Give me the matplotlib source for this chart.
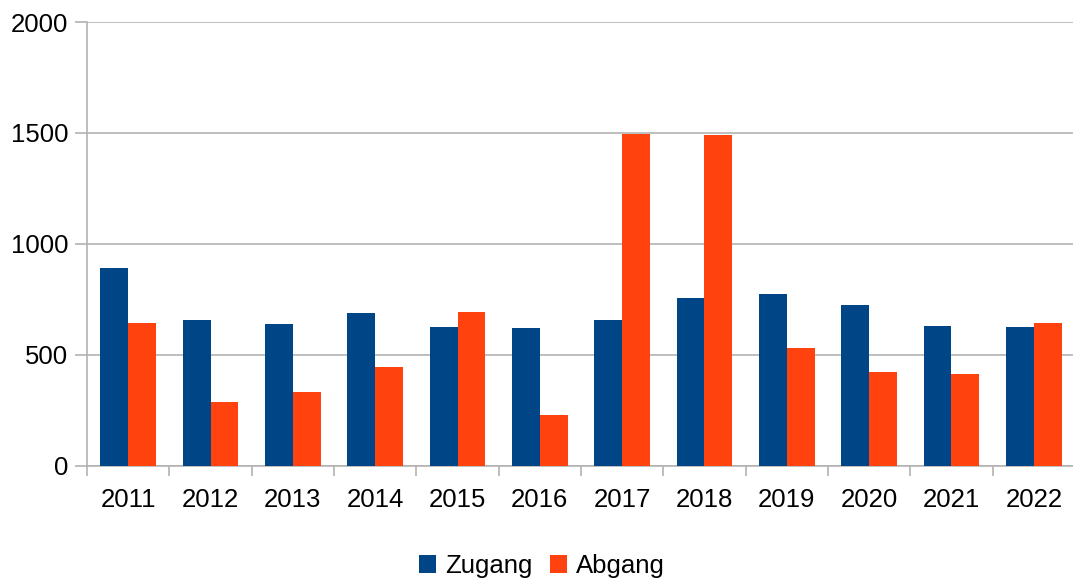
import matplotlib
matplotlib.use('Agg')

import numpy as np
import matplotlib.pyplot as plt

plt.rcParams['font.family'] = ['Liberation Sans', 'DejaVu Sans']

years = ['2011', '2012', '2013', '2014', '2015', '2016',
         '2017', '2018', '2019', '2020', '2021', '2022']
zugang = [889, 655, 637, 686, 623, 619, 655, 754, 772, 722, 628, 623]
abgang = [641, 286, 331, 443, 691, 227, 1496, 1492, 529, 421, 412, 641]

fig = plt.figure(figsize=(10.73, 5.8), dpi=100)
ax = fig.add_axes([87 / 1073, 114.5 / 580, 988 / 1073, 443.5 / 580])

x = np.arange(len(years))
w = 0.34
ax.bar(x - w / 2, zugang, w, color='#004586', label='Zugang', zorder=3)
ax.bar(x + w / 2, abgang, w, color='#ff420e', label='Abgang', zorder=3)

ax.set_xlim(-0.5, len(years) - 0.5)
ax.set_ylim(0, 2000)
ax.set_yticks([0, 500, 1000, 1500, 2000])
ax.yaxis.grid(True, color='#b3b3b3', linewidth=1.2, zorder=0)

ax.set_xticks(x)
ax.set_xticklabels(years)
ax.set_xticks(np.arange(-0.5, len(years)), minor=True)
ax.tick_params(axis='x', which='major', length=0, pad=16, labelsize=18.5)
ax.tick_params(axis='x', which='minor', length=7, width=1.2, color='#b3b3b3')
ax.tick_params(axis='y', length=8.6, width=1.2, color='#b3b3b3', pad=5,
               labelsize=18.5)

for s in ['top', 'right']:
    ax.spines[s].set_visible(False)
for s in ['left', 'bottom']:
    ax.spines[s].set_color('#b3b3b3')
    ax.spines[s].set_linewidth(1.2)

fig.legend(loc='center', bbox_to_anchor=(0.505, 1 - 566 / 580), ncol=2,
           frameon=False, fontsize=18.5, handlelength=0.65, handleheight=0.65,
           handletextpad=0.35, columnspacing=0.7)

fig.savefig('out.png', dpi=100)
